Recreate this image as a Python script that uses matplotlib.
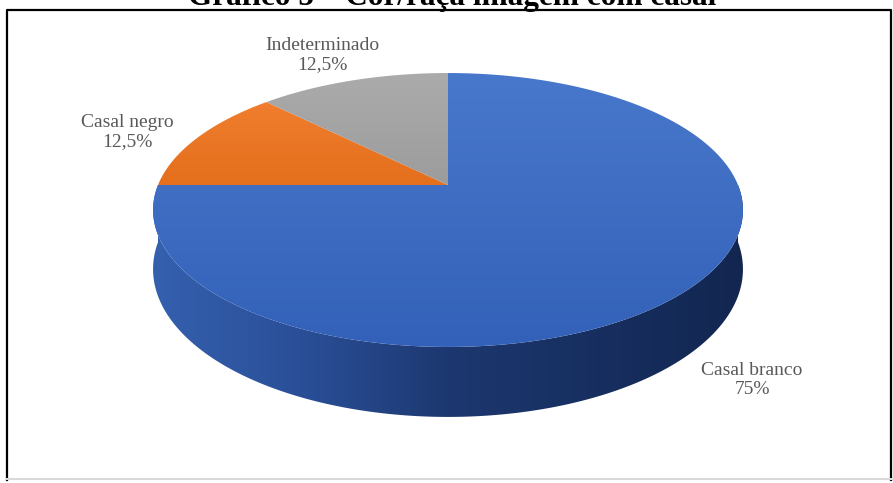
import numpy as np
import matplotlib
matplotlib.use("Agg")
import matplotlib.pyplot as plt
from matplotlib.patches import Polygon
from matplotlib.colors import LinearSegmentedColormap

# dados
categorias = ["Casal branco", "Casal negro", "Indeterminado"]
valores = [75, 12.5, 12.5]
rotulos_pct = ["75%", "12,5%", "12,5%"]
cores_topo = [("#4878cb", "#3361b9"), ("#f07e2e", "#e46f1c"), ("#ababab", "#9c9c9c")]
titulo = "Gráfico 5 – Cor/raça imagem com casal"

# geometria da pizza 3D (pixels)
W, H = 893, 483
cx, cy = 448, 185      # centro projetado
A, B = 290, 132.4      # semi-eixos
k = 0.1825             # perspectiva
D = 57.2               # espessura

fig = plt.figure(figsize=(W / 100, H / 100), dpi=100)
ax = fig.add_axes([0, 0, 1, 1])


def proj(phi, queda=0.0):
    u, v = np.cos(phi), np.sin(phi)
    d = 1 + k * v
    return cx + A * u / d, cy - B * v / d + queda / d


def preencher(verts, cores, horizontal=False, z=1):
    poly = Polygon(verts, closed=True, facecolor="none", edgecolor="none", zorder=z)
    ax.add_patch(poly)
    xs, ys = verts[:, 0], verts[:, 1]
    cmap = LinearSegmentedColormap.from_list("g", cores)
    g = np.linspace(0, 1, 256)
    img = g.reshape(1, -1) if horizontal else g.reshape(-1, 1)
    im = ax.imshow(img, cmap=cmap, extent=(xs.min(), xs.max(), ys.max(), ys.min()),
                   aspect="auto", interpolation="bilinear", zorder=z)
    im.set_clip_path(poly)


# lateral (parte da frente)
phis = np.linspace(np.pi, 2 * np.pi, 200)
tx, ty = proj(phis)
bx, by = proj(phis[::-1], D)
lateral = np.column_stack([np.concatenate([tx, bx]), np.concatenate([ty, by])])
preencher(lateral, ["#3560ae", "#2a4f98", "#1d3870", "#172f60", "#122650"], horizontal=True, z=1)

# fatias do topo (sentido horario a partir de 90 graus)
total = sum(valores)
ini = np.pi / 2
for val, cores in zip(valores, cores_topo):
    fim = ini - 2 * np.pi * val / total
    ang = np.linspace(ini, fim, 200)
    px, py = proj(ang)
    verts = np.column_stack([np.r_[cx, px], np.r_[cy, py]])
    preencher(verts, cores, z=2)
    ini = fim

# rotulos
pos_rotulos = [(752, 380), (127, 132), (322, 55)]
for cat, pct, (x, y) in zip(categorias, rotulos_pct, pos_rotulos):
    ax.text(x, y, cat + "\n" + pct, ha="center", va="center", fontsize=14,
            family="Liberation Serif", color="#595959", linespacing=1.2, zorder=5)

# titulo (cortado no topo, como no original)
ax.text(452, 5, titulo, ha="center", va="baseline", fontsize=22.5, fontweight="bold",
        family="Liberation Serif", color="black", zorder=5)

# moldura
ax.plot([7, 7, 891, 891], [480, 10, 10, 480], color="black", lw=1.6, zorder=6)
ax.plot([7, 891], [479, 479], color="#d9d9d9", lw=1.5, zorder=6)

ax.set_xlim(0, W)
ax.set_ylim(H, 0)
ax.axis("off")
fig.savefig("out.png", dpi=100)
